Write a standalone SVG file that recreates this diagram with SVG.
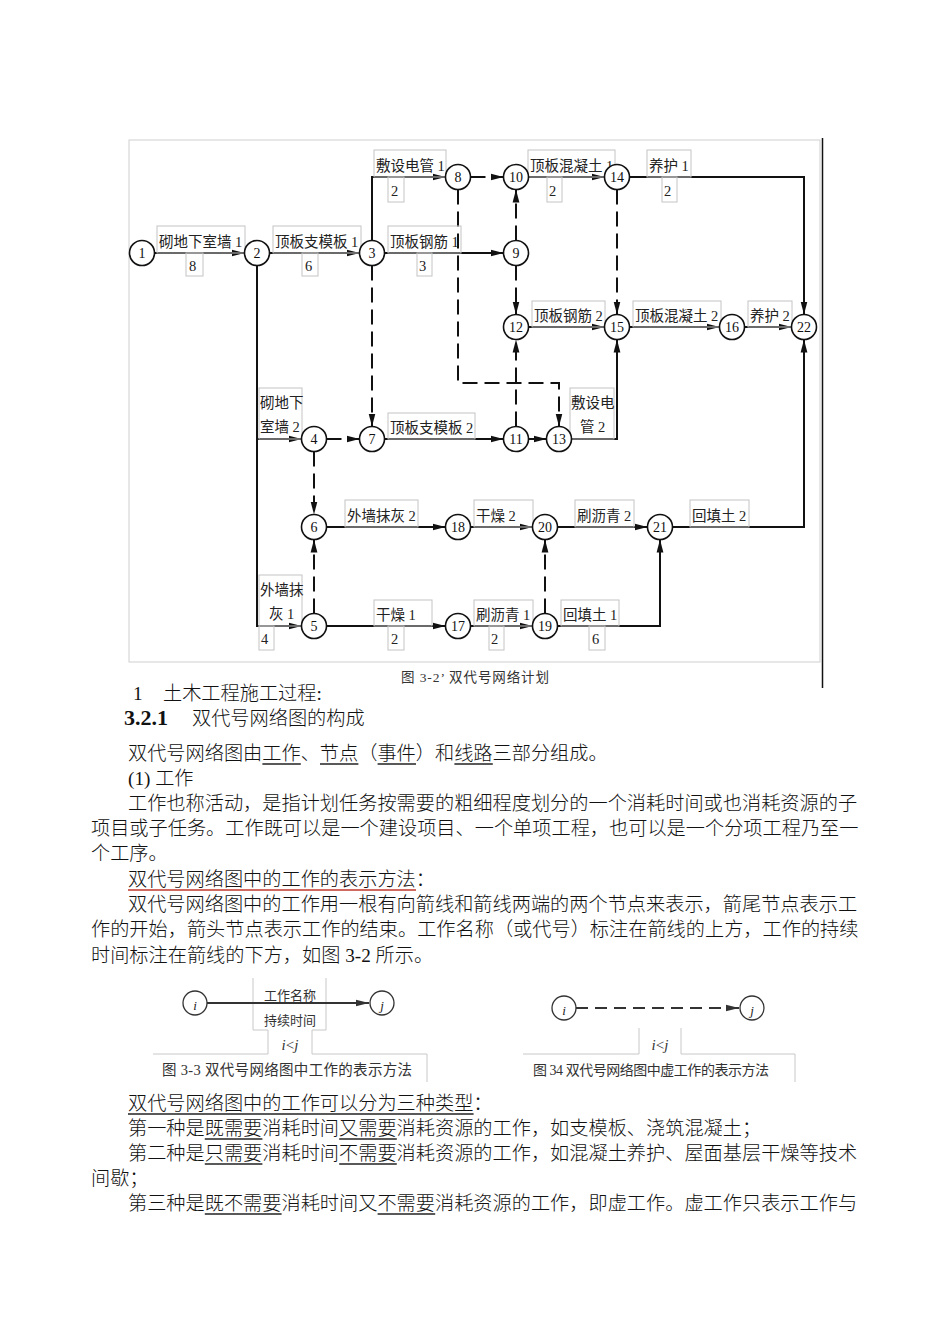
<svg xmlns="http://www.w3.org/2000/svg" width="950" height="1344" viewBox="0 0 950 1344">
<style>
.bg{fill:#fff}
.ln{fill:none;stroke:#111;stroke-width:2}
.ds{stroke-dasharray:15 7}
.nd circle{fill:#fff;stroke:#111;stroke-width:1.6}
.nd text{font-family:"Liberation Serif",serif;font-size:14px;text-anchor:middle;fill:#111}
.lb rect{fill:none;stroke:#c4c4c4;stroke-width:1}
.lb text{font-family:"Liberation Serif","Noto Sans CJK SC",serif;font-size:14.5px;fill:#222}
.body{font-family:"Liberation Serif","Noto Sans CJK SC",serif;font-size:19.2px;font-weight:300;fill:#111}
.ul{stroke:#222;stroke-width:1.6}
.cap{font-family:"Liberation Serif","Noto Sans CJK SC",serif;fill:#333}
.fr{fill:none;stroke:#c8c8c8;stroke-width:1}
.sn circle{fill:#fff;stroke:#333;stroke-width:1.3}
.sn text{font-family:"Liberation Serif",serif;font-style:italic;font-size:13px;text-anchor:middle;fill:#222}
</style>
<defs>
<marker id="ah" markerWidth="14" markerHeight="8" refX="13" refY="4" orient="auto" markerUnits="userSpaceOnUse"><path d="M0,0.6 L13,4 L0,7.4 z" fill="#111"/></marker>
<marker id="ah2" markerWidth="14" markerHeight="8" refX="13" refY="4" orient="auto" markerUnits="userSpaceOnUse"><path d="M0,0.8 L13,4 L0,7.2 z" fill="#333"/></marker>
</defs>
<rect class="bg" x="0" y="0" width="950" height="1344"/>

<!-- network frame -->
<rect x="129" y="140" width="691" height="522" fill="none" stroke="#cfcfcf" stroke-width="1"/>
<line x1="822.5" y1="138" x2="822.5" y2="688" stroke="#111" stroke-width="1.5"/>

<g id="connectors">
<path class="ln" d="M154.5,253 H244.5" marker-end="url(#ah)"/>
<path class="ln" d="M269.5,253 H359.5" marker-end="url(#ah)"/>
<path class="ln" d="M372,240.5 V177 H445.5" marker-end="url(#ah)"/>
<path class="ln" d="M384.5,253 H503.5" marker-end="url(#ah)"/>
<path class="ln ds" d="M470.5,177 H503.5" marker-end="url(#ah)"/>
<path class="ln ds" d="M516,240.5 V189.5" marker-end="url(#ah)"/>
<path class="ln ds" d="M516,265.5 V314.5" marker-end="url(#ah)"/>
<path class="ln" d="M528.5,177 H604.5" marker-end="url(#ah)"/>
<path class="ln" d="M629.5,177 H804 V314.5" marker-end="url(#ah)"/>
<path class="ln ds" d="M617,189.5 V314.5" marker-end="url(#ah)"/>
<path class="ln" d="M528.5,327 H604.5" marker-end="url(#ah)"/>
<path class="ln" d="M629.5,327 H719.5" marker-end="url(#ah)"/>
<path class="ln" d="M744.5,327 H791.5" marker-end="url(#ah)"/>
<path class="ln ds" d="M458,189.5 V383 H559 V426.5" marker-end="url(#ah)"/>
<path class="ln ds" d="M372,265.5 V426.5" marker-end="url(#ah)"/>
<path class="ln" d="M257,265.5 V439 H301.5" marker-end="url(#ah)"/>
<path class="ln" d="M257,439 V626 H301.5" marker-end="url(#ah)"/>
<path class="ln ds" d="M326.5,439 H359.5" marker-end="url(#ah)"/>
<path class="ln ds" d="M314,451.5 V514.5" marker-end="url(#ah)"/>
<path class="ln" d="M384.5,439 H503.5" marker-end="url(#ah)"/>
<path class="ln" d="M528.5,439 H546.5" marker-end="url(#ah)"/>
<path class="ln ds" d="M516,426.5 V339.5" marker-end="url(#ah)"/>
<path class="ln" d="M571.5,439 H617 V339.5" marker-end="url(#ah)"/>
<path class="ln" d="M326.5,527 H445.5" marker-end="url(#ah)"/>
<path class="ln" d="M470.5,527 H532.5" marker-end="url(#ah)"/>
<path class="ln" d="M557.5,527 H647.5" marker-end="url(#ah)"/>
<path class="ln" d="M672.5,527 H804 V339.5" marker-end="url(#ah)"/>
<path class="ln ds" d="M314,613.5 V539.5" marker-end="url(#ah)"/>
<path class="ln" d="M326.5,626 H445.5" marker-end="url(#ah)"/>
<path class="ln" d="M470.5,626 H532.5" marker-end="url(#ah)"/>
<path class="ln ds" d="M545,613.5 V539.5" marker-end="url(#ah)"/>
<path class="ln" d="M557.5,626 H660 V539.5" marker-end="url(#ah)"/>
</g>

<g id="labels" class="lb">
<rect x="157" y="226" width="88" height="27"/><text x="159" y="247">砌地下室墙 1</text>
<rect x="186" y="253" width="17" height="23"/><text x="189" y="271">8</text>
<rect x="273" y="226" width="88" height="27"/><text x="275" y="247">顶板支模板 1</text>
<rect x="302" y="253" width="16" height="23"/><text x="305" y="271">6</text>
<rect x="374" y="150" width="72" height="27"/><text x="376" y="171">敷设电管 1</text>
<rect x="388" y="177" width="16" height="25"/><text x="391" y="196">2</text>
<rect x="388" y="226" width="73" height="27"/><text x="390" y="247">顶板钢筋 1</text>
<rect x="417" y="253" width="15" height="23"/><text x="419" y="271">3</text>
<rect x="528" y="150" width="87" height="27"/><text x="530" y="171">顶板混凝土 1</text>
<rect x="547" y="177" width="15" height="25"/><text x="549" y="196">2</text>
<rect x="647" y="150" width="44" height="27"/><text x="649" y="171">养护 1</text>
<rect x="662" y="177" width="15" height="25"/><text x="664" y="196">2</text>
<rect x="532" y="301" width="73" height="26"/><text x="534" y="321">顶板钢筋 2</text>
<rect x="633" y="301" width="88" height="26"/><text x="635" y="321">顶板混凝土 2</text>
<rect x="748" y="301" width="44" height="26"/><text x="750" y="321">养护 2</text>
<rect x="259" y="388" width="43" height="51"/><text x="260" y="408">砌地下</text><text x="260" y="432">室墙 2</text>
<rect x="388" y="413" width="87" height="26"/><text x="390" y="433">顶板支模板 2</text>
<rect x="570" y="388" width="44" height="51"/><text x="571" y="408">敷设电</text><text x="580" y="432">管 2</text>
<rect x="345" y="500" width="73" height="27"/><text x="347" y="521">外墙抹灰 2</text>
<rect x="474" y="500" width="59" height="27"/><text x="476" y="521">干燥 2</text>
<rect x="575" y="500" width="59" height="27"/><text x="577" y="521">刷沥青 2</text>
<rect x="690" y="500" width="59" height="27"/><text x="692" y="521">回填土 2</text>
<rect x="259" y="575" width="43" height="51"/><text x="260" y="595">外墙抹</text><text x="269" y="619">灰 1</text>
<rect x="259" y="626" width="15" height="24"/><text x="261" y="644">4</text>
<rect x="374" y="600" width="58" height="26"/><text x="376" y="620">干燥 1</text>
<rect x="388" y="626" width="16" height="24"/><text x="391" y="644">2</text>
<rect x="474" y="600" width="59" height="26"/><text x="476" y="620">刷沥青 1</text>
<rect x="489" y="626" width="15" height="24"/><text x="491" y="644">2</text>
<rect x="561" y="600" width="58" height="26"/><text x="563" y="620">回填土 1</text>
<rect x="589" y="626" width="16" height="24"/><text x="592" y="644">6</text>
</g>

<g id="n1" class="nd"><circle cx="142" cy="253" r="12.5"/><text x="142" y="258">1</text></g>
<g id="n2" class="nd"><circle cx="257" cy="253" r="12.5"/><text x="257" y="258">2</text></g>
<g id="n3" class="nd"><circle cx="372" cy="253" r="12.5"/><text x="372" y="258">3</text></g>
<g id="n8" class="nd"><circle cx="458" cy="177" r="12.5"/><text x="458" y="182">8</text></g>
<g id="n10" class="nd"><circle cx="516" cy="177" r="12.5"/><text x="516" y="182">10</text></g>
<g id="n14" class="nd"><circle cx="617" cy="177" r="12.5"/><text x="617" y="182">14</text></g>
<g id="n9" class="nd"><circle cx="516" cy="253" r="12.5"/><text x="516" y="258">9</text></g>
<g id="n12" class="nd"><circle cx="516" cy="327" r="12.5"/><text x="516" y="332">12</text></g>
<g id="n15" class="nd"><circle cx="617" cy="327" r="12.5"/><text x="617" y="332">15</text></g>
<g id="n16" class="nd"><circle cx="732" cy="327" r="12.5"/><text x="732" y="332">16</text></g>
<g id="n22" class="nd"><circle cx="804" cy="327" r="12.5"/><text x="804" y="332">22</text></g>
<g id="n4" class="nd"><circle cx="314" cy="439" r="12.5"/><text x="314" y="444">4</text></g>
<g id="n7" class="nd"><circle cx="372" cy="439" r="12.5"/><text x="372" y="444">7</text></g>
<g id="n11" class="nd"><circle cx="516" cy="439" r="12.5"/><text x="516" y="444">11</text></g>
<g id="n13" class="nd"><circle cx="559" cy="439" r="12.5"/><text x="559" y="444">13</text></g>
<g id="n6" class="nd"><circle cx="314" cy="527" r="12.5"/><text x="314" y="532">6</text></g>
<g id="n18" class="nd"><circle cx="458" cy="527" r="12.5"/><text x="458" y="532">18</text></g>
<g id="n20" class="nd"><circle cx="545" cy="527" r="12.5"/><text x="545" y="532">20</text></g>
<g id="n21" class="nd"><circle cx="660" cy="527" r="12.5"/><text x="660" y="532">21</text></g>
<g id="n5" class="nd"><circle cx="314" cy="626" r="12.5"/><text x="314" y="631">5</text></g>
<g id="n17" class="nd"><circle cx="458" cy="626" r="12.5"/><text x="458" y="631">17</text></g>
<g id="n19" class="nd"><circle cx="545" cy="626" r="12.5"/><text x="545" y="631">19</text></g>

<text class="cap" x="401" y="682" font-size="13.5" textLength="148" lengthAdjust="spacing">图 3-2’  双代号网络计划</text>

<!-- headings -->
<text class="body" x="133" y="700" font-size="17">1</text>
<text class="body" x="163" y="700">土木工程施工过程:</text>
<text x="124" y="725" font-family="Liberation Serif,serif" font-weight="bold" font-size="22" fill="#111">3.2.1</text>
<text class="body" x="192" y="725" font-size="22.4">双代号网络图的构成</text>

<!-- body text -->
<text class="body" x="128" y="760">双代号网络图由工作、节点（事件）和线路三部分组成。</text>
<line class="ul" x1="262.4" y1="764" x2="300.8" y2="764"/>
<line class="ul" x1="320" y1="764" x2="358.4" y2="764"/>
<line class="ul" x1="377.6" y1="764" x2="416" y2="764"/>
<line class="ul" x1="454.4" y1="764" x2="492.8" y2="764"/>
<text class="body" x="128" y="785">(1) 工作</text>
<text class="body" x="128" y="810">工作也称活动，是指计划任务按需要的粗细程度划分的一个消耗时间或也消耗资源的子</text>
<text class="body" x="91" y="835">项目或子任务。工作既可以是一个建设项目、一个单项工程，也可以是一个分项工程乃至一</text>
<text class="body" x="91" y="860">个工序。</text>
<text class="body" x="128" y="886">双代号网络图中的工作的表示方法：</text>
<line x1="128" y1="890" x2="416" y2="890" stroke="#c0392b" stroke-width="1.6"/>
<text class="body" x="128" y="911">双代号网络图中的工作用一根有向箭线和箭线两端的两个节点来表示，箭尾节点表示工</text>
<text class="body" x="91" y="936">作的开始，箭头节点表示工作的结束。工作名称（或代号）标注在箭线的上方，工作的持续</text>
<text class="body" x="91" y="962">时间标注在箭线的下方，如图 3-2 所示。</text>

<!-- figure 3-3 -->
<g id="fig33">
<path class="fr" d="M253,978 V1030 H268 V1054 H153"/>
<path class="fr" d="M326,978 V1030 H312 V1054 H427 V1082"/>
<path d="M207,1003 H369" fill="none" stroke="#333" stroke-width="2" marker-end="url(#ah2)"/>
<g id="f33i" class="sn"><circle cx="195" cy="1003" r="12"/><text x="195" y="1010">i</text></g>
<g id="f33j" class="sn"><circle cx="382" cy="1003" r="12"/><text x="382" y="1010">j</text></g>
<text class="cap" x="290" y="1000" font-size="13" text-anchor="middle">工作名称</text>
<text class="cap" x="290" y="1025" font-size="13" text-anchor="middle">持续时间</text>
<text class="cap" x="290" y="1050" font-size="15" text-anchor="middle"><tspan font-style="italic">i</tspan>&lt;<tspan font-style="italic">j</tspan></text>
<text class="cap" x="162" y="1075" font-size="14.5" textLength="250" lengthAdjust="spacing">图 3-3  双代号网络图中工作的表示方法</text>
</g>

<!-- figure 3-4 -->
<g id="fig34">
<path class="fr" d="M639,1028 V1054 H523"/>
<path class="fr" d="M681,1028 V1054 H795 V1082"/>
<path d="M576,1008 H739" fill="none" stroke="#333" stroke-width="2" stroke-dasharray="12 7" marker-end="url(#ah2)"/>
<g id="f34i" class="sn"><circle cx="564" cy="1008" r="12"/><text x="564" y="1015">i</text></g>
<g id="f34j" class="sn"><circle cx="752" cy="1008" r="12"/><text x="752" y="1015">j</text></g>
<text class="cap" x="660" y="1050" font-size="15" text-anchor="middle"><tspan font-style="italic">i</tspan>&lt;<tspan font-style="italic">j</tspan></text>
<text class="cap" x="533" y="1075" font-size="14" textLength="236" lengthAdjust="spacing">图 34   双代号网络图中虚工作的表示方法</text>
</g>

<!-- body text lower -->
<text class="body" x="128" y="1110">双代号网络图中的工作可以分为三种类型：</text>
<line class="ul" x1="128" y1="1114" x2="473.6" y2="1114"/>
<text class="body" x="128" y="1135">第一种是既需要消耗时间又需要消耗资源的工作，如支模板、浇筑混凝土；</text>
<line class="ul" x1="204.8" y1="1139" x2="262.4" y2="1139"/>
<line class="ul" x1="339.2" y1="1139" x2="396.8" y2="1139"/>
<text class="body" x="128" y="1160">第二种是只需要消耗时间不需要消耗资源的工作，如混凝土养护、屋面基层干燥等技术</text>
<line class="ul" x1="204.8" y1="1164" x2="262.4" y2="1164"/>
<line class="ul" x1="339.2" y1="1164" x2="396.8" y2="1164"/>
<text class="body" x="91" y="1185">间歇；</text>
<text class="body" x="128" y="1210">第三种是既不需要消耗时间又不需要消耗资源的工作，即虚工作。虚工作只表示工作与</text>
<line class="ul" x1="204.8" y1="1214" x2="281.6" y2="1214"/>
<line class="ul" x1="377.6" y1="1214" x2="435.2" y2="1214"/>
</svg>
